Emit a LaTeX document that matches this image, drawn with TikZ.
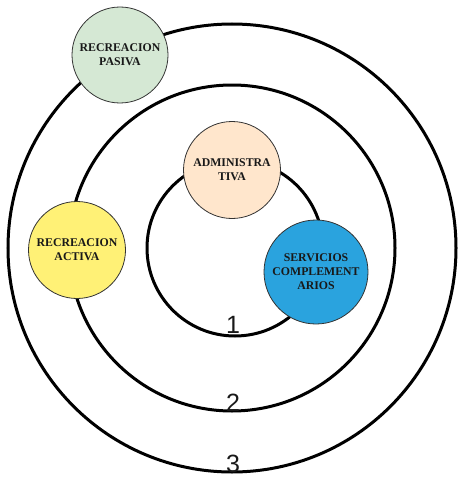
\documentclass[tikz,border=0pt]{standalone}
\usepackage{fontspec}
\setmainfont{Liberation Serif}
\newfontfamily\numfont{Liberation Sans}
\definecolor{cgreen}{HTML}{D5E8D4}
\definecolor{cpeach}{HTML}{FFE6CC}
\definecolor{cyellow}{HTML}{FFF176}
\definecolor{cblue}{HTML}{2AA3DE}
\definecolor{cstroke}{HTML}{333333}
\begin{document}
\begin{tikzpicture}[x=1pt,y=-1pt,
  ring/.style={circle,draw=black,line width=3pt,inner sep=0pt},
  zone/.style={circle,draw=cstroke,line width=0.8pt,inner sep=0pt,minimum size=#1,align=center,font=\bfseries\fontsize{11.8}{14}\selectfont,text=black!90},
  num/.style={font=\numfont\fontsize{25}{25}\selectfont,text=black!90}]
\useasboundingbox (0,0) rectangle (458,487);
\node[ring,minimum size=448pt] (r3) at (232,248) {};
\node[ring,minimum size=326pt] (r2) at (232,248) {};
\node[ring,minimum size=176pt] (r1) at (235,248) {};
\node[num] (n1) at (233,325) {1};
\node[num] (n2) at (233,403) {2};
\node[num] (n3) at (233,464) {3};
\node[zone=96pt,fill=cgreen] (pasiva) at (120,55) {RECREACION\\PASIVA};
\node[zone=97pt,fill=cpeach] (admin) at (232,170) {ADMINISTRA\\TIVA};
\node[zone=97pt,fill=cyellow] (activa) at (77,250) {RECREACION\\ACTIVA};
\node[zone=104pt,fill=cblue] (serv) at (316,272) {SERVICIOS\\COMPLEMENT\\ARIOS};
\end{tikzpicture}
\end{document}
